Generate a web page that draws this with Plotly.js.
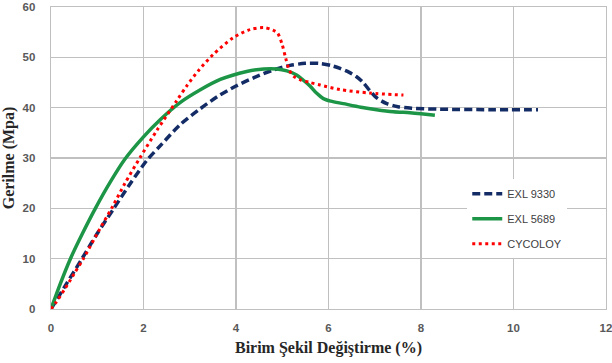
<!DOCTYPE html>
<html>
<head>
<meta charset="utf-8">
<script src="https://cdn.plot.ly/plotly-3.0.1.min.js"></script>
<style>html,body{margin:0;padding:0;background:#fff;}#chart{width:612px;height:363px;}</style>
</head>
<body>
<div id="chart"></div>
<script>
// EXL 9330
const exl9330X = [0, 0.3, 0.67, 1.0, 1.36, 1.72, 2.07, 2.4, 2.79, 3.2, 3.6, 4.0, 4.4, 4.81, 5.17, 5.5, 5.8, 6.05, 6.25, 6.45, 6.6, 6.75, 6.9, 7.05, 7.26, 7.5, 7.8, 8.4, 9.5, 10.53];
const exl9330Y = [0, 4.5, 10, 15, 20, 25, 29.5, 32.8, 36.6, 39.6, 42.2, 44.3, 46.0, 47.5, 48.4, 48.8, 48.8, 48.4, 47.8, 47.0, 46.2, 45.0, 43.3, 41.9, 40.8, 40.2, 39.9, 39.7, 39.6, 39.6];
// EXL 5689
const exl5689X = [0, 0.2, 0.42, 0.68, 0.96, 1.28, 1.6, 2.0, 2.36, 2.79, 3.22, 3.66, 4.23, 4.6, 4.88, 5.1, 5.31, 5.45, 5.6, 5.74, 5.89, 6.05, 6.32, 6.7, 7.04, 7.4, 7.76, 8.0, 8.3];
const exl5689Y = [0, 5, 10, 15, 20, 25.2, 29.8, 34.2, 37.6, 41.0, 43.5, 45.6, 47.2, 47.7, 47.7, 47.3, 46.5, 45.5, 44.3, 42.9, 41.8, 41.3, 40.8, 40.1, 39.6, 39.2, 39.0, 38.8, 38.5];
// CYCOLOY
const cycoloyX = [0, 0.1, 0.3, 0.5, 0.7, 1.0, 1.34, 1.6, 1.92, 2.29, 2.72, 2.94, 3.2, 3.51, 3.94, 4.3, 4.6, 4.8, 4.9, 5.0, 5.07, 5.15, 5.25, 5.4, 5.6, 5.82, 6.25, 6.9, 7.62];
const cycoloyY = [0, 1.2, 4, 7, 10, 15, 20.5, 25, 30, 35.5, 41.4, 44.4, 47.5, 50.6, 53.9, 55.5, 55.9, 55.4, 54.8, 52.5, 50, 47.5, 46.2, 45.5, 45.0, 44.5, 43.6, 42.9, 42.5];
const seriesNames = ['EXL 9330', 'EXL 5689', 'CYCOLOY'];
const xTicks = [0, 2, 4, 6, 8, 10, 12];
const yTicks = [0, 10, 20, 30, 40, 50, 60];

const traces = [
  {x: exl9330X, y: exl9330Y, name: seriesNames[0], legendgroup: 'a', mode: 'lines',
   line: {color: '#142c66', width: 3.5, dash: '8px,4px', shape: 'spline', smoothing: 0.8}},
  {x: exl5689X, y: exl5689Y, name: seriesNames[1], legendgroup: 'b', mode: 'lines',
   line: {color: '#1c9646', width: 3.5, shape: 'spline', smoothing: 0.8}},
  {x: cycoloyX, y: cycoloyY, name: seriesNames[2], legendgroup: 'c', mode: 'lines',
   line: {color: '#ff0000', width: 3, dash: '3px,3.5px', shape: 'spline', smoothing: 0.8}}
];

const tickFont = {family: 'Liberation Sans', size: 11.5, color: '#595959', weight: 'bold'};
const titleFont = {family: 'Liberation Serif', size: 16, color: '#262626', weight: 'bold'};
const layout = {
  width: 612, height: 363,
  margin: {l: 51, r: 6, t: 7, b: 54},
  paper_bgcolor: '#ffffff', plot_bgcolor: '#ffffff',
  showlegend: true,
  legend: {x: 0.75, y: 0.43, xanchor: 'left', yanchor: 'top', bgcolor: '#ffffff', borderwidth: 0,
           traceorder: 'grouped', tracegroupgap: 6,
           font: {family: 'Liberation Sans', size: 11, color: '#404040'}},
  xaxis: {range: [0, 12], tickvals: xTicks, ticktext: xTicks.map(String), showgrid: true,
          gridcolor: '#c0c0c0', gridwidth: 1.3, zeroline: false, showline: true, linecolor: '#c0c0c0',
          linewidth: 1.3, mirror: true, ticks: '', ticklabelstandoff: 8, tickfont: tickFont,
          ticklabeloverflow: 'allow',
          title: {text: 'Birim Şekil Değiştirme (%)', standoff: 8, font: titleFont}},
  yaxis: {range: [0, 60], tickvals: yTicks, ticktext: yTicks.map(String), showgrid: true,
          gridcolor: '#c0c0c0', gridwidth: 1.3, zeroline: false, showline: true, linecolor: '#c0c0c0',
          linewidth: 1.3, mirror: true, ticks: '', ticklabelstandoff: 12, tickfont: tickFont,
          ticklabeloverflow: 'allow',
          title: {text: 'Gerilme (Mpa)', standoff: 6, font: titleFont}}
};
Plotly.newPlot('chart', traces, layout, {displayModeBar: false, staticPlot: true});
</script>
</body>
</html>
